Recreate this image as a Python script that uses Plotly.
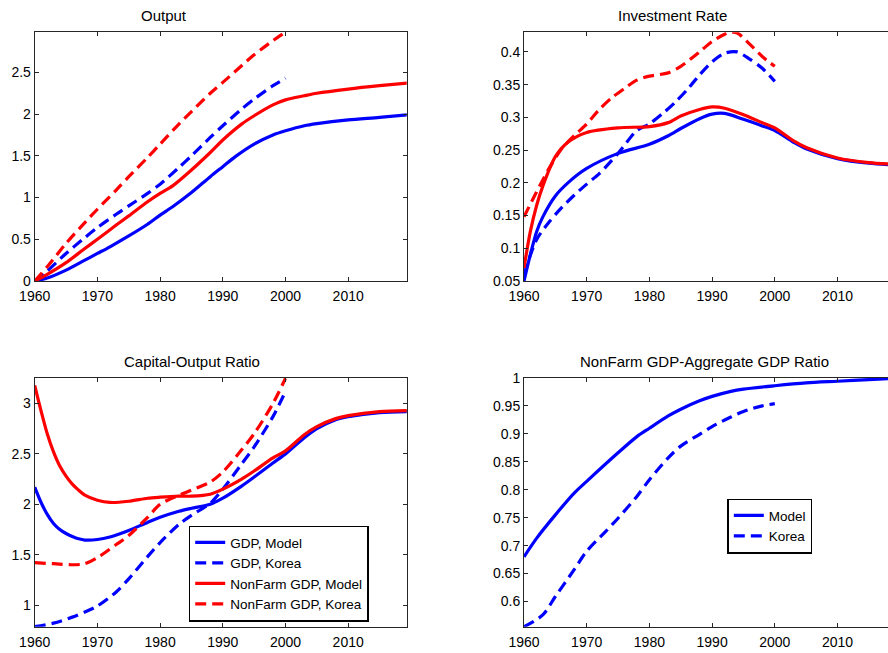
import plotly.graph_objects as go

BLUE = "#0000FF"
RED = "#FF0000"

# ---------------- Data ----------------
# Panel 1: Output
out_years_gdp_model = [1960, 1962, 1965, 1968, 1970, 1972, 1975, 1978, 1980, 1982, 1985, 1988, 1990, 1992, 1995, 1998, 2000, 2003, 2005, 2010, 2015, 2020]
out_gdp_model = [0, 0.035, 0.13, 0.25, 0.33, 0.41, 0.54, 0.68, 0.79, 0.89, 1.06, 1.25, 1.37, 1.49, 1.64, 1.75, 1.80, 1.86, 1.885, 1.93, 1.96, 1.995]
out_years_nonfarm_model = [1960, 1962, 1965, 1968, 1970, 1973, 1975, 1978, 1980, 1982, 1985, 1988, 1990, 1993, 1995, 1998, 2000, 2003, 2005, 2010, 2015, 2020]
out_nonfarm_model = [0, 0.08, 0.22, 0.39, 0.50, 0.67, 0.78, 0.95, 1.05, 1.14, 1.33, 1.54, 1.69, 1.88, 1.98, 2.11, 2.17, 2.22, 2.25, 2.30, 2.34, 2.375]
out_years_korea = [1960, 1962, 1965, 1968, 1970, 1973, 1975, 1978, 1980, 1983, 1985, 1988, 1990, 1993, 1995, 1998, 2000]
out_gdp_korea = [0, 0.12, 0.33, 0.52, 0.64, 0.80, 0.90, 1.05, 1.16, 1.36, 1.50, 1.72, 1.86, 2.06, 2.18, 2.34, 2.43]
out_nonfarm_korea = [0, 0.17, 0.45, 0.70, 0.86, 1.09, 1.25, 1.48, 1.64, 1.88, 2.03, 2.25, 2.38, 2.58, 2.71, 2.88, 2.98]

# Panel 2: Investment Rate
inv_years_model = [1960, 1961, 1962, 1963, 1965, 1967, 1970, 1975, 1980, 1983, 1985, 1988, 1990, 1992, 1995, 1998, 2000, 2003, 2005, 2010, 2015, 2020]
inv_gdp_model = [0.05, 0.09, 0.125, 0.148, 0.18, 0.200, 0.222, 0.245, 0.259, 0.272, 0.283, 0.298, 0.305, 0.306, 0.297, 0.287, 0.28, 0.262, 0.252, 0.237, 0.230, 0.227]
inv_nonfarm_model = [0.07, 0.125, 0.165, 0.195, 0.24, 0.262, 0.277, 0.284, 0.286, 0.292, 0.302, 0.312, 0.316, 0.314, 0.304, 0.292, 0.284, 0.264, 0.254, 0.238, 0.231, 0.228]
inv_years_gdp_korea = [1960, 1962, 1964, 1966, 1968, 1970, 1972, 1975, 1978, 1980, 1982, 1984, 1986, 1988, 1990, 1992, 1994, 1996, 1998, 2000]
inv_gdp_korea = [0.06, 0.113, 0.14, 0.162, 0.181, 0.198, 0.214, 0.245, 0.28, 0.29, 0.305, 0.322, 0.342, 0.365, 0.385, 0.398, 0.40, 0.389, 0.375, 0.355]
inv_years_nonfarm_korea = [1960, 1962, 1964, 1966, 1968, 1970, 1972, 1974, 1976, 1978, 1980, 1983, 1985, 1988, 1990, 1992, 1993, 1994, 1996, 1998, 2000]
inv_nonfarm_korea = [0.148, 0.186, 0.222, 0.252, 0.272, 0.29, 0.312, 0.33, 0.344, 0.357, 0.363, 0.368, 0.378, 0.40, 0.416, 0.427, 0.43, 0.429, 0.412, 0.393, 0.378]

# Panel 3: Capital-Output Ratio
ko_years_model = [1960, 1961, 1962, 1963, 1964, 1965, 1966, 1967, 1968, 1970, 1972, 1975, 1978, 1980, 1983, 1985, 1988, 1990, 1993, 1995, 1998, 2000, 2003, 2005, 2008, 2010, 2015, 2020]
ko_gdp_model = [2.17, 2.02, 1.90, 1.81, 1.75, 1.71, 1.68, 1.657, 1.645, 1.65, 1.675, 1.74, 1.82, 1.87, 1.93, 1.96, 2.00, 2.06, 2.18, 2.27, 2.41, 2.50, 2.66, 2.75, 2.84, 2.87, 2.91, 2.92]
ko_nonfarm_model = [3.18, 2.93, 2.70, 2.52, 2.38, 2.28, 2.20, 2.14, 2.09, 2.04, 2.018, 2.03, 2.06, 2.07, 2.08, 2.08, 2.10, 2.15, 2.25, 2.33, 2.46, 2.53, 2.69, 2.77, 2.85, 2.88, 2.92, 2.93]
ko_years_korea = [1960, 1963, 1966, 1968, 1970, 1973, 1975, 1978, 1980, 1983, 1985, 1988, 1990, 1993, 1995, 1998, 2000]
ko_gdp_korea = [0.785, 0.82, 0.88, 0.93, 0.99, 1.13, 1.26, 1.48, 1.62, 1.80, 1.89, 2.01, 2.15, 2.40, 2.57, 2.87, 3.12]
ko_nonfarm_korea = [1.42, 1.41, 1.40, 1.41, 1.47, 1.60, 1.69, 1.87, 2.0, 2.09, 2.14, 2.22, 2.32, 2.54, 2.70, 3.0, 3.25]

# Panel 4: NonFarm GDP - Aggregate GDP Ratio
ratio_years_model = [1960, 1962, 1965, 1968, 1970, 1975, 1978, 1980, 1983, 1985, 1988, 1990, 1993, 1995, 2000, 2005, 2010, 2015, 2020]
ratio_model = [0.68, 0.713, 0.755, 0.794, 0.815, 0.866, 0.895, 0.91, 0.932, 0.944, 0.959, 0.967, 0.976, 0.98, 0.986, 0.991, 0.994, 0.997, 1.0]
ratio_years_korea = [1960, 1963, 1965, 1968, 1970, 1973, 1975, 1978, 1980, 1983, 1985, 1988, 1990, 1993, 1995, 1998, 2000]
ratio_korea = [0.555, 0.576, 0.609, 0.657, 0.69, 0.725, 0.749, 0.788, 0.818, 0.857, 0.878, 0.899, 0.913, 0.93, 0.94, 0.95, 0.954]

x_tickvals = [1960, 1970, 1980, 1990, 2000, 2010]
x_ticktext = ["1960", "1970", "1980", "1990", "2000", "2010"]
y1_tickvals = [0, 0.5, 1, 1.5, 2, 2.5]
y1_ticktext = ["0", "0.5", "1", "1.5", "2", "2.5"]
y2_tickvals = [0.05, 0.1, 0.15, 0.2, 0.25, 0.3, 0.35, 0.4]
y2_ticktext = ["0.05", "0.1", "0.15", "0.2", "0.25", "0.3", "0.35", "0.4"]
y3_tickvals = [1, 1.5, 2, 2.5, 3]
y3_ticktext = ["1", "1.5", "2", "2.5", "3"]
y4_tickvals = [0.6, 0.65, 0.7, 0.75, 0.8, 0.85, 0.9, 0.95, 1]
y4_ticktext = ["0.6", "0.65", "0.7", "0.75", "0.8", "0.85", "0.9", "0.95", "1"]

titles = ["Output", "Investment Rate", "Capital-Output Ratio", "NonFarm GDP-Aggregate GDP Ratio"]
legend_names = ["GDP, Model", "GDP, Korea", "NonFarm GDP, Model", "NonFarm GDP, Korea"]
legend_names_ratio = ["Model", "Korea"]

# ---------------- Figure ----------------
W, H = 888, 653
FONT = "Liberation Sans, Arial, Helvetica, sans-serif"
DASH = "11px,6px"
LW = 3.2

fig = go.Figure()


def add(x, y, color, dash, axis, name=None, legend=None):
    fig.add_trace(go.Scatter(
        x=x, y=y, mode="lines",
        line=dict(color=color, width=LW, dash=dash, shape="spline", smoothing=0.8),
        xaxis="x" + axis, yaxis="y" + axis,
        name=name, showlegend=legend is not None,
        legend=legend if legend else "legend",
        hoverinfo="skip",
    ))


# panel 1
add(out_years_gdp_model, out_gdp_model, BLUE, "solid", "")
add(out_years_korea, out_gdp_korea, BLUE, DASH, "")
add(out_years_nonfarm_model, out_nonfarm_model, RED, "solid", "")
add(out_years_korea, out_nonfarm_korea, RED, DASH, "")
# panel 2
add(inv_years_model, inv_gdp_model, BLUE, "solid", "2")
add(inv_years_gdp_korea, inv_gdp_korea, BLUE, DASH, "2")
add(inv_years_model, inv_nonfarm_model, RED, "solid", "2")
add(inv_years_nonfarm_korea, inv_nonfarm_korea, RED, DASH, "2")
# panel 3 (with legend)
add(ko_years_model, ko_gdp_model, BLUE, "solid", "3", legend_names[0], "legend")
add(ko_years_korea, ko_gdp_korea, BLUE, DASH, "3", legend_names[1], "legend")
add(ko_years_model, ko_nonfarm_model, RED, "solid", "3", legend_names[2], "legend")
add(ko_years_korea, ko_nonfarm_korea, RED, DASH, "3", legend_names[3], "legend")
# panel 4 (with legend)
add(ratio_years_model, ratio_model, BLUE, "solid", "4", legend_names_ratio[0], "legend2")
add(ratio_years_korea, ratio_korea, BLUE, DASH, "4", legend_names_ratio[1], "legend2")


def px_x(p):
    return p / W


def px_y(p):
    return 1 - p / H


tickfont = dict(family=FONT, size=14, color="#000000")


def xaxis(domain, rng, anchor):
    return dict(domain=domain, range=rng, anchor=anchor, automargin=False,
                tickvals=x_tickvals, ticktext=x_ticktext,
                ticks="inside", ticklen=4, tickcolor="#262626",
                showline=True, linecolor="#262626", linewidth=1, mirror="ticks",
                showgrid=False, zeroline=False, tickfont=tickfont,
                ticklabelstandoff=2)


def yaxis(domain, rng, anchor, tv, tt, mirror):
    return dict(domain=domain, range=rng, anchor=anchor, automargin=False,
                tickvals=tv, ticktext=tt,
                ticks="inside", ticklen=4, tickcolor="#262626",
                showline=True, linecolor="#262626", linewidth=1, mirror=mirror,
                showgrid=False, zeroline=False, tickfont=tickfont)


xl = [px_x(34.7), px_x(406.7)]
xr = [px_x(524), 1.0]
yt = [px_y(281), px_y(32.3)]
yb = [px_y(626.7), px_y(377.9)]
left_range = [1960, 1960 + (406.7 - 34.7) / 6.27]
right_range = [1960, 1960 + (888 - 524) / 6.27]

legend_font = dict(family=FONT, size=13.5, color="#000000")

fig.update_layout(
    width=W, height=H,
    margin=dict(l=0, r=0, t=0, b=0, autoexpand=False),
    paper_bgcolor="white", plot_bgcolor="white",
    font=dict(family=FONT, size=14, color="#000000"),
    xaxis=xaxis(xl, left_range, "y"),
    yaxis=yaxis(yt, [0, 2.98], "x", y1_tickvals, y1_ticktext, "ticks"),
    xaxis2=xaxis(xr, right_range, "y2"),
    yaxis2=yaxis(yt, [0.05, 0.43], "x2", y2_tickvals, y2_ticktext, False),
    xaxis3=xaxis(xl, left_range, "y3"),
    yaxis3=yaxis(yb, [0.785, 3.254], "x3", y3_tickvals, y3_ticktext, "ticks"),
    xaxis4=xaxis(xr, right_range, "y4"),
    yaxis4=yaxis(yb, [0.555, 1.0], "x4", y4_tickvals, y4_ticktext, False),
    legend=dict(x=px_x(188.7), y=px_y(525.5), xanchor="left", yanchor="top",
                bgcolor="white", bordercolor="#000000", borderwidth=1.5,
                font=legend_font, tracegroupgap=0),
    legend2=dict(x=px_x(727.3), y=px_y(498.5), xanchor="left", yanchor="top",
                 bgcolor="white", bordercolor="#000000", borderwidth=1.5,
                 font=legend_font, tracegroupgap=0),
    hovermode=False,
)

title_pos = [(164, 15.7), (672, 15.7), (192, 361), (704, 361)]
for t, (cx, cy) in zip(titles, title_pos):
    fig.add_annotation(text=t, xref="paper", yref="paper",
                       x=px_x(cx), y=px_y(cy), xanchor="center", yanchor="middle",
                       showarrow=False, font=dict(family=FONT, size=15, color="#000000"))

fig.write_html("out.html")
